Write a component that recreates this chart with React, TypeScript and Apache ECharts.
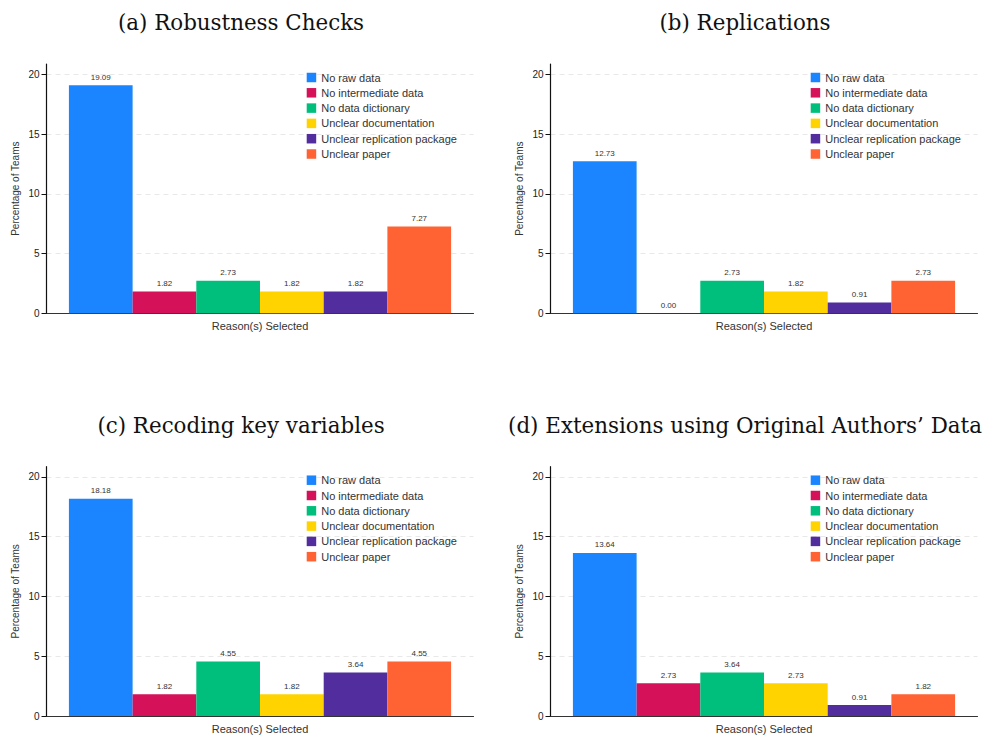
import React, { useEffect, useRef } from "react";
import * as echarts from "echarts";

const reasons = [
  "No raw data",
  "No intermediate data",
  "No data dictionary",
  "Unclear documentation",
  "Unclear replication package",
  "Unclear paper",
];
const panelTitles = [
  "(a) Robustness Checks",
  "(b) Replications",
  "(c) Recoding key variables",
  "(d) Extensions using Original Authors\u2019 Data",
];
const robustnessValues = [19.09, 1.82, 2.73, 1.82, 1.82, 7.27];
const replicationValues = [12.73, 0.0, 2.73, 1.82, 0.91, 2.73];
const recodingValues = [18.18, 1.82, 4.55, 1.82, 3.64, 4.55];
const extensionValues = [13.64, 2.73, 3.64, 2.73, 0.91, 1.82];
const yTicks = [0, 5, 10, 15, 20];
const xCategory = ["Reason(s) Selected"];

const colors = ["#1A85FF", "#D41159", "#00BF7D", "#FFD300", "#512D9E", "#FF6233"];
const SANS = "'Liberation Sans', Arial, Helvetica, sans-serif";
const SERIF = "'DejaVu Serif', 'Liberation Serif', serif";

export default function App() {
  const ref = useRef<HTMLDivElement>(null);
  useEffect(() => {
    if (!ref.current) return;
    const chart = echarts.init(ref.current, undefined, { renderer: "svg" });
    const panels = [robustnessValues, replicationValues, recodingValues, extensionValues];
    const offX = [0, 504, 0, 504];
    const offY = [0, 0, 402.7, 402.7];
    const grids: any[] = [];
    const xAxes: any[] = [];
    const yAxes: any[] = [];
    const series: any[] = [];
    const legends: any[] = [];
    const graphics: any[] = [];
    panels.forEach((vals, p) => {
      grids.push({ left: 46.5 + offX[p], top: 64 + offY[p], width: 427, height: 249.3 });
      xAxes.push({
        type: "category",
        gridIndex: p,
        data: xCategory,
        axisLabel: { show: false },
        axisTick: { show: false },
        axisLine: { lineStyle: { color: "#333", width: 1.2 } },
        name: "Reason(s) Selected",
        nameLocation: "middle",
        nameGap: 7,
        nameTextStyle: { fontSize: 11, color: "#333", fontFamily: SANS, verticalAlign: "top" },
      });
      yAxes.push({
        type: "value",
        gridIndex: p,
        min: 0,
        max: 20.86,
        interval: 5,
        axisLine: { show: true, lineStyle: { color: "#111", width: 1.2 } },
        axisTick: { show: true, length: 5, customValues: yTicks, lineStyle: { color: "#111" } },
        axisLabel: { customValues: yTicks, fontSize: 10, color: "#222", margin: 7, fontFamily: SANS },
        splitLine: { show: true, lineStyle: { color: "#e8e8e8", type: [5, 4], width: 1 } },
        name: "Percentage of Teams",
        nameLocation: "middle",
        nameGap: 26,
        nameTextStyle: { fontSize: 10, color: "#333", fontFamily: SANS },
      });
      vals.forEach((v, i) => {
        series.push({
          type: "bar",
          name: reasons[i],
          xAxisIndex: p,
          yAxisIndex: p,
          data: [v],
          barGap: "0%",
          barCategoryGap: "10.5%",
          itemStyle: { color: colors[i] },
          label: {
            show: true,
            position: "top",
            distance: 4,
            fontSize: 8,
            color: "#333",
            fontFamily: SANS,
            formatter: (d: any) => Number(d.value).toFixed(2),
          },
        });
      });
      legends.push({
        data: reasons,
        orient: "vertical",
        left: 306.7 + offX[p],
        top: 72 + offY[p],
        padding: 0,
        itemWidth: 9.5,
        itemHeight: 9.5,
        itemGap: 4.3,
        icon: "rect",
        selectedMode: false,
        textStyle: { fontSize: 11, color: "#333", fontFamily: SANS },
      });
      graphics.push({
        type: "text",
        x: 241 + offX[p],
        y: 22.5 + offY[p],
        style: {
          text: panelTitles[p],
          fontSize: 21.4,
          fontFamily: SERIF,
          fill: "#111",
          textAlign: "center",
          textVerticalAlign: "middle",
        },
      });
    });
    chart.setOption({
      animation: false,
      backgroundColor: "#fff",
      grid: grids,
      xAxis: xAxes,
      yAxis: yAxes,
      series,
      legend: legends,
      graphic: graphics,
    });
    return () => chart.dispose();
  }, []);
  return (
    <div
      ref={ref}
      style={{ position: "absolute", left: 0, top: 0, width: 990, height: 738, background: "#fff" }}
    />
  );
}
